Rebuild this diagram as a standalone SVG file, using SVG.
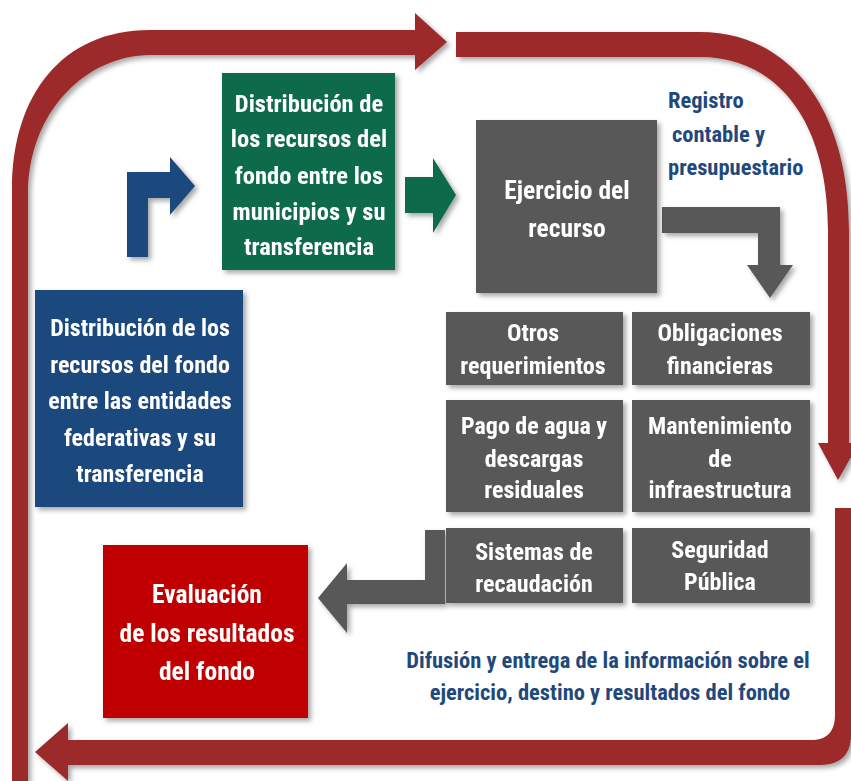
<svg xmlns="http://www.w3.org/2000/svg" width="851" height="781" viewBox="0 0 851 781">
<defs>
<filter id="sh" x="-10%" y="-10%" width="130%" height="130%">
<feDropShadow dx="3" dy="3" stdDeviation="2.5" flood-color="#000" flood-opacity="0.35"/>
</filter>
<style>
.t{font-family:"Liberation Sans Narrow","Roboto Condensed","Liberation Sans",sans-serif;font-weight:bold;text-anchor:middle}
.w{fill:#ffffff}
.b{fill:#1f497d}
.red{fill:#9c2a2a}
.gray{fill:#595959}
</style>
</defs>
<rect width="851" height="781" fill="#ffffff"/>
<g id="connectors" filter="url(#sh)">
<path class="red" d="M12,781 L12,190 C12,95 62,30 150,30 L415,30 L415,13 L447,42 L415,70 L415,55 L150,55 C88,55 28,110 28,195 L28,781 Z"/>
<path class="red" d="M456,32 L700,32 C790,32 849,110 849,230 L849,443 L859,443 L838,480 L818,443 L828,443 L828,230 C828,122 778,57 700,57 L456,57 Z"/>
<path class="red" d="M835,508 L851,508 L851,735 C851,755 840,765 820,765 L68,765 L68,781 L35,752 L68,723 L68,740 L812,740 C828,740 835,730 835,715 Z"/>
<path fill="#1f497d" d="M127,257 L127,172 L170,172 L170,157 L195,186 L170,215 L170,198 L148,198 L148,257 Z"/>
<path fill="#116b4c" d="M405,177 L433,177 L433,158 L456,195 L433,233 L433,213 L405,213 Z"/>
<path class="gray" d="M662,207 L780,207 L780,265 L793,265 L770,298 L747,265 L758,265 L758,233 L662,233 Z"/>
<path class="gray" d="M445,530 L445,604 L347,604 L347,633 L318,598 L347,563 L347,580 L425,580 L425,530 Z"/>
</g>
<g id="n-green" filter="url(#sh)">
<rect x="222" y="73" width="173" height="197" fill="#116b4c"/>
<text class="t w" font-size="24.5"><tspan x="309" y="112">Distribución de</tspan><tspan x="309" y="147">los recursos del</tspan><tspan x="309" y="184">fondo entre los</tspan><tspan x="309" y="220">municipios y su</tspan><tspan x="309" y="255">transferencia</tspan></text>
</g>
<g id="n-blue" filter="url(#sh)">
<rect x="35" y="290" width="208" height="217" fill="#1f497d"/>
<text class="t w" font-size="24"><tspan x="140" y="336">Distribución de los</tspan><tspan x="140" y="373">recursos del fondo</tspan><tspan x="140" y="409">entre las entidades</tspan><tspan x="140" y="446">federativas y su</tspan><tspan x="140" y="482">transferencia</tspan></text>
</g>
<g id="n-ejercicio" filter="url(#sh)">
<rect x="476" y="120" width="181" height="173" fill="#595959"/>
<text class="t w" font-size="25.5"><tspan x="567" y="199">Ejercicio del</tspan><tspan x="567" y="237">recurso</tspan></text>
</g>
<g id="n-registro">
<text class="t b" font-size="22.5" style="text-anchor:start"><tspan x="668" y="108">Registro</tspan><tspan x="672" y="142">contable y</tspan><tspan x="668" y="175">presupuestario</tspan></text>
</g>
<g id="n-otros" filter="url(#sh)">
<rect x="446" y="312" width="177" height="73" fill="#595959"/>
<text class="t w" font-size="24"><tspan x="533" y="341">Otros</tspan><tspan x="533" y="374">requerimientos</tspan></text>
</g>
<g id="n-obligaciones" filter="url(#sh)">
<rect x="632" y="312" width="178" height="73" fill="#595959"/>
<text class="t w" font-size="24"><tspan x="720" y="341">Obligaciones</tspan><tspan x="720" y="374">financieras</tspan></text>
</g>
<g id="n-pago" filter="url(#sh)">
<rect x="446" y="400" width="177" height="112" fill="#595959"/>
<text class="t w" font-size="24"><tspan x="534" y="434">Pago de agua y</tspan><tspan x="534" y="467">descargas</tspan><tspan x="534" y="498">residuales</tspan></text>
</g>
<g id="n-mantenimiento" filter="url(#sh)">
<rect x="632" y="400" width="178" height="112" fill="#595959"/>
<text class="t w" font-size="24"><tspan x="720" y="434">Mantenimiento</tspan><tspan x="720" y="467">de</tspan><tspan x="720" y="498">infraestructura</tspan></text>
</g>
<g id="n-sistemas" filter="url(#sh)">
<rect x="446" y="528" width="177" height="75" fill="#595959"/>
<text class="t w" font-size="24"><tspan x="534" y="560">Sistemas de</tspan><tspan x="534" y="592">recaudación</tspan></text>
</g>
<g id="n-seguridad" filter="url(#sh)">
<rect x="632" y="528" width="178" height="75" fill="#595959"/>
<text class="t w" font-size="24"><tspan x="720" y="558">Seguridad</tspan><tspan x="720" y="590">Pública</tspan></text>
</g>
<g id="n-evaluacion" filter="url(#sh)">
<rect x="103" y="545" width="205" height="173" fill="#c00000"/>
<text class="t w" font-size="25.5"><tspan x="207" y="603">Evaluación</tspan><tspan x="207" y="642">de los resultados</tspan><tspan x="207" y="680">del fondo</tspan></text>
</g>
<g id="n-difusion">
<text class="t b" font-size="22.5"><tspan x="608" y="668">Difusión y entrega de la información sobre el</tspan><tspan x="610" y="700">ejercicio, destino y resultados del fondo</tspan></text>
</g>
</svg>
